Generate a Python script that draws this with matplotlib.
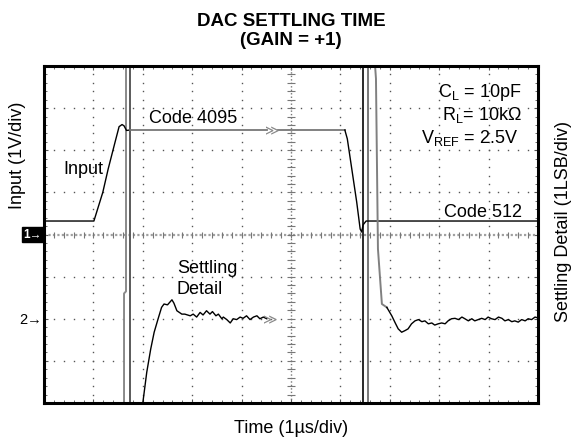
import numpy as np
import matplotlib
matplotlib.use("Agg")
import matplotlib.pyplot as plt

plt.rcParams["font.family"] = ["Liberation Sans", "DejaVu Sans"]
plt.rcParams["mathtext.default"] = "regular"

# scope screen: 10 x 8 divisions; x = time (1us/div), y = divisions
N_XDIV, N_YDIV = 10, 8

# input trace (1V/div) - rise to code 4095
input_rise_t = [0.0, 1.01, 1.19, 1.30, 1.44, 1.52, 1.58, 1.62, 1.67, 1.74]
input_rise_y = [4.32, 4.32, 5.00, 5.56, 6.20, 6.56, 6.61, 6.58, 6.47, 6.48]
# code 4095 level, broken in the middle of the screen
code4095_a_t = [1.74, 4.51]
code4095_b_t = [4.74, 6.09]
code4095_y = 6.48
# fall to code 512
input_fall_t = [6.09, 6.14, 6.23, 6.33, 6.40, 6.43, 6.46, 6.52, 10.0]
input_fall_y = [6.48, 6.27, 5.56, 4.77, 4.13, 4.06, 4.23, 4.32, 4.32]

# settling detail (1LSB/div), rising edge
settle_rise_t = [2.00, 2.08, 2.16, 2.23, 2.31, 2.38, 2.43, 2.50, 2.59, 2.63,
                 2.69, 2.79, 2.85, 2.96, 3.02, 3.09, 3.16, 3.22, 3.29, 3.36,
                 3.41, 3.48, 3.53, 3.60, 3.63, 3.70, 3.77, 3.83, 3.90, 3.97,
                 4.03, 4.10, 4.17, 4.24, 4.31, 4.37, 4.44, 4.51]
settle_rise_y = [0.00, 0.73, 1.28, 1.68, 2.00, 2.27, 2.35, 2.33, 2.45, 2.37,
                 2.19, 2.11, 2.11, 2.07, 2.11, 2.04, 2.15, 2.09, 2.19, 2.11,
                 2.17, 2.07, 2.11, 2.00, 2.04, 1.98, 1.90, 2.00, 1.98, 2.04,
                 2.01, 2.07, 1.98, 2.04, 2.07, 2.00, 2.04, 2.00]
# settling detail, falling edge (fast off-scale part, then recovery)
settle_fast_t = [6.69, 6.72, 6.76, 6.84, 6.94]
settle_fast_y = [8.20, 7.70, 3.66, 2.35, 2.27]
settle_fall_t = [6.94, 7.04, 7.11, 7.17, 7.24, 7.31, 7.37, 7.44, 7.51, 7.58,
                 7.65, 7.71, 7.78, 7.85, 7.91, 7.98, 8.05, 8.12, 8.18, 8.25,
                 8.32, 8.39, 8.46, 8.52, 8.59, 8.66, 8.72, 8.79, 8.86, 8.93,
                 8.99, 9.06, 9.13, 9.20, 9.27, 9.33, 9.40, 9.47, 9.53, 9.60,
                 9.67, 9.74, 9.80, 9.87, 9.94, 10.0]
settle_fall_y = [2.27, 2.07, 1.90, 1.76, 1.68, 1.72, 1.76, 1.88, 1.95, 1.98,
                 1.93, 1.95, 1.88, 1.90, 1.85, 1.88, 1.90, 1.88, 1.95, 2.00,
                 2.01, 1.98, 2.04, 2.00, 1.95, 2.00, 1.95, 1.98, 2.01, 1.98,
                 2.04, 2.00, 1.98, 2.04, 2.01, 1.95, 1.98, 1.93, 1.95, 1.92,
                 1.98, 1.95, 2.00, 1.98, 2.04, 2.02]
# off-scale (clipped) excursions of the settling trace at each transition
spike_lines = [
    ([1.66, 1.66, 1.62, 1.62], [8.2, 2.65, 2.60, -0.2], "#8a8a8a"),
    ([1.74, 1.74], [8.2, -0.2], "#5a5a5a"),
    ([6.45, 6.45], [8.2, -0.2], "#2a2a2a"),
    ([6.565, 6.565], [8.2, -0.2], "#7a7a7a"),
]

fig = plt.figure(figsize=(5.79, 4.39), dpi=100)
ax = fig.add_axes([44 / 579, 35 / 439, 494 / 579, 337 / 439])
ax.set_xlim(0, N_XDIV)
ax.set_ylim(0, N_YDIV)

# graticule: dots on each division line, centre lines with cross ticks
minor_x = np.arange(0.2, N_XDIV, 0.2)
minor_y = np.arange(0.2, N_YDIV, 0.2)
dot = dict(ls="none", marker="s", ms=1.0, mew=0, color="#555555")
for k in range(1, N_XDIV):
    if k != N_XDIV // 2:
        ax.plot(np.full_like(minor_y, k), minor_y, **dot)
for j in range(1, N_YDIV):
    if j != N_YDIV // 2:
        ax.plot(minor_x, np.full_like(minor_x, j), **dot)
ax.axhline(N_YDIV / 2, color="#a0a0a0", lw=1.6, ls=(0, (1, 1)))
ax.axvline(N_XDIV / 2, color="#777777", lw=1.0, ls=(0, (1, 1.5)))
ax.plot(minor_x, np.full_like(minor_x, N_YDIV / 2), ls="none", marker="|",
        ms=5, mew=0.8, color="#777777")
ax.plot(np.full_like(minor_y, N_XDIV / 2), minor_y, ls="none", marker="_",
        ms=6, mew=0.8, color="#777777")

ax.set_xticks(range(N_XDIV + 1))
ax.set_yticks(range(N_YDIV + 1))
ax.set_xticks(minor_x, minor=True)
ax.set_yticks(minor_y, minor=True)
ax.tick_params(which="both", direction="in", top=True, right=True,
               labelbottom=False, labelleft=False, color="#555555")
ax.tick_params(which="major", length=3, width=0.8)
ax.tick_params(which="minor", length=2, width=0.6)
for s in ax.spines.values():
    s.set_linewidth(2.2)

# traces
for xs, ys, c in spike_lines:
    ax.plot(xs, ys, color=c, lw=1.4)
ax.plot(input_rise_t, input_rise_y, color="black", lw=1.0)
ax.plot(code4095_a_t, [code4095_y] * 2, color="#777777", lw=1.3)
ax.plot(code4095_b_t, [code4095_y] * 2, color="#777777", lw=1.3)
ax.plot(input_fall_t, input_fall_y, color="black", lw=1.0)
ax.plot(settle_rise_t, settle_rise_y, color="black", lw=1.0)
ax.plot(settle_fast_t, settle_fast_y, color="#808080", lw=1.4)
ax.plot(settle_fall_t, settle_fall_y, color="black", lw=1.0)
ax.text(4.62, code4095_y, "≫", family="DejaVu Sans", fontsize=10,
        color="#888888", ha="center", va="center")
ax.text(4.58, 1.99, "≫", family="DejaVu Sans", fontsize=10,
        color="#888888", ha="center", va="center")

# annotations
fs = 13
ax.text(2.13, 6.67, "Code 4095", fontsize=fs, va="baseline")
ax.text(0.40, 5.45, "Input", fontsize=fs, va="baseline")
ax.text(2.69, 3.10, "Settling", fontsize=fs, va="baseline")
ax.text(2.69, 2.61, "Detail", fontsize=fs, va="baseline")
ax.text(9.67, 4.45, "Code 512", fontsize=fs, va="baseline", ha="right")
ax.text(9.67, 7.29, r"C$_{L}$ = 10pF", fontsize=fs, va="baseline", ha="right")
ax.text(9.67, 6.75, r"R$_{L}$= 10k$\Omega$", fontsize=fs, va="baseline",
        ha="right")
ax.text(9.60, 6.19, r"V$_{REF}$ = 2.5V", fontsize=fs, va="baseline",
        ha="right")

# channel markers
tr = ax.get_yaxis_transform()
ax.text(-0.004, 4.0, "1→", transform=tr, fontsize=8.5, fontweight="bold",
        color="white", ha="right", va="center", clip_on=False,
        bbox=dict(facecolor="black", edgecolor="black", pad=1.4))
ax.text(-0.004, 2.0, "2→", transform=tr, fontsize=10.5, color="black",
        ha="right", va="center", clip_on=False)

# labels and title
fig.text(291 / 579, 1 - 26 / 439, "DAC SETTLING TIME", fontsize=13.5,
         fontweight="bold", ha="center", va="baseline")
fig.text(291 / 579, 1 - 45 / 439, "(GAIN = +1)", fontsize=13.5,
         fontweight="bold", ha="center", va="baseline")
fig.text(291 / 579, 1 - 429 / 439, "Time (1µs/div)", fontsize=fs,
         ha="center", va="center")
fig.text(18 / 579, 1 - 155 / 439, "Input (1V/div)", fontsize=fs,
         rotation=90, ha="center", va="center")
fig.text(563 / 579, 1 - 222 / 439, "Settling Detail (1LSB/div)", fontsize=fs,
         rotation=90, ha="center", va="center")

fig.savefig("out.png", dpi=100)
